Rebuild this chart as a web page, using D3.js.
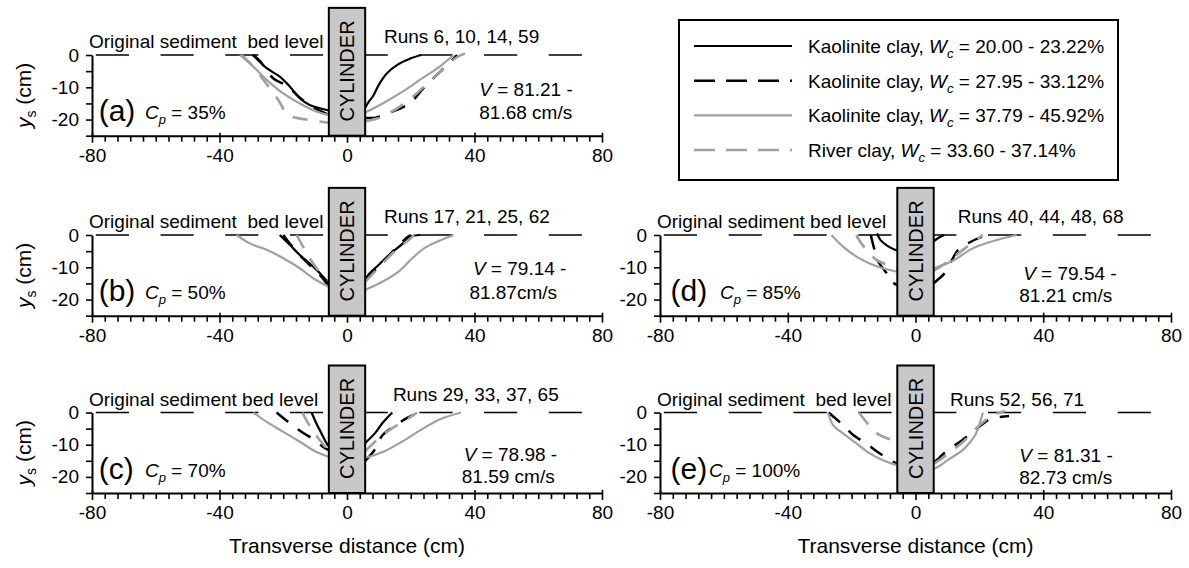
<!DOCTYPE html>
<html><head><meta charset="utf-8">
<script src="https://cdn.jsdelivr.net/npm/d3@7"></script>
<style>
body{margin:0;background:#fff}
text{font-family:'Liberation Sans',Arial,Helvetica,sans-serif;fill:#000}
</style>
</head><body><svg id="chart" width="1189" height="568"></svg>
<script>
// ---------------- DATA ----------------
const panelIds = ["a", "b", "c", "d", "e"];
const cpValues = ["35%", "50%", "70%", "85%", "100%"];
const runLabels = ["Runs 6, 10, 14, 59", "Runs 17, 21, 25, 62", "Runs 29, 33, 37, 65", "Runs 40, 44, 48, 68", "Runs 52, 56, 71"];
const velocityFrom = ["81.21 -", "79.14 -", "78.98 -", "79.54 -", "81.31 -"];
const velocityTo = ["81.68 cm/s", "81.87cm/s", "81.59 cm/s", "81.21 cm/s", "82.73 cm/s"];
const bedLabels = ["Original sediment  bed level", "Original sediment  bed level", "Original sediment bed level", "Original sediment bed level", "Original sediment  bed level"];
const clayTypes = ["Kaolinite clay, ", "Kaolinite clay, ", "Kaolinite clay, ", "River clay, "];
const wcRanges = ["20.00 - 23.22%", "27.95 - 33.12%", "37.79 - 45.92%", "33.60 - 37.14%"];
const xTickLabels = [-80, -40, 0, 40, 80];
const yTickLabels = [0, -10, -20];
const cylinderRadius = 5.7;   // cm
const cylinderTop = 14.6;     // cm above bed level

// each series: [left branch, right branch] of [transverse distance, scour depth]
const a_s1 = [[[-29.6,0],[-27.5,-2],[-25.2,-4.1],[-21.1,-6.7],[-17.9,-9.8],[-14.8,-13.4],[-11.7,-15.5],[-8.5,-16.5],[-5.7,-17.2]],
              [[5.7,-16.3],[6.8,-14.5],[8.2,-12.7],[10,-9.2],[12.4,-5.8],[16,-2.9],[19.6,-1.2],[23.2,0]]];
const a_s2 = [[[-29.4,0],[-27.2,-2],[-23.2,-7.2],[-18.8,-9.6],[-14.5,-13.5],[-10,-16.5],[-5.7,-18.5]],
              [[5.7,-19.5],[9,-19.4],[13.6,-17.8],[19.6,-15],[24.4,-9.8],[29.2,-5.2],[32.8,-1.7],[34.5,0]]];
const a_s3 = [[[-33.6,0],[-29.4,-3.6],[-25.2,-7.7],[-20,-11.9],[-14.8,-15],[-9.6,-17.5],[-5.7,-18.6]],
              [[5.7,-17.8],[11.2,-15],[17.2,-11.5],[23.2,-7.5],[29.2,-3.5],[33.4,0]]];
const a_s4 = [[[-33,0],[-30,-3],[-26,-8],[-21.5,-14],[-18.5,-18.5],[-12.2,-20.1],[-8.5,-20.6],[-5.7,-21]],
              [[5.7,-20.5],[10,-19.5],[15,-17],[20,-13.5],[25,-9],[30,-4.5],[34,-1],[37,0.5]]];

const b_s1 = [[[-21.1,0],[-17.9,-3.1],[-14.8,-6.2],[-10.6,-9.8],[-7.5,-12.9],[-5.7,-15]],
              [[5.7,-14.5],[6.4,-12.7],[10,-9.2],[13.6,-5.8],[17.2,-2.9],[19.6,-0.6],[23,0]]];
const b_s2 = [[[-20,0],[-16,-5],[-12,-9],[-8,-13],[-5.7,-16]],
              [[5.7,-14],[6.4,-13.2],[11.2,-8.6],[14.8,-4.6],[19,-0.6],[20,0]]];
const b_s3 = [[[-34.6,0],[-30.5,-2.6],[-25.2,-4.6],[-20,-7.2],[-14.8,-10.3],[-10.6,-13.4],[-5.7,-16]],
              [[5.7,-17],[6.4,-16.7],[11.2,-14.4],[16,-11.5],[20.8,-6.9],[24.4,-4],[29.2,-1.7],[33.4,0]]];
const b_s4 = [[[-15.8,0],[-13.8,-3.6],[-11.7,-7.2],[-9.1,-10.8],[-5.7,-14]],
              [[5.7,-14.5],[10,-10],[15,-5],[20,-1],[21,0]]];

const c_s1 = [[[-11.1,0],[-9.6,-3.4],[-8,-6.5],[-6.4,-9.6],[-5.7,-10.5]],
              [[5.7,-9.5],[6.1,-9.1],[8.8,-6.4],[11.2,-3.2],[14.2,0]]];
const c_s2 = [[[-22.1,0],[-18.5,-2.9],[-14.3,-6],[-10.1,-8.6],[-7.5,-10.7],[-5.7,-11.7]],
              [[5.7,-15],[8.2,-12.3],[11.2,-7],[14.8,-4.3],[19,-1.6],[22.6,0]]];
const c_s3 = [[[-29.4,0],[-25.2,-2.9],[-20,-6],[-14.8,-9.1],[-10.6,-11.7],[-5.7,-13.8]],
              [[5.7,-14],[6.4,-13.9],[11.2,-12.3],[17.2,-9.1],[23.2,-5.4],[29.2,-2.1],[35.8,0]]];
const c_s4 = [[[-14,0],[-11.5,-4.5],[-9,-8],[-5.7,-12]],
              [[5.7,-12],[10,-8],[14,-5],[19,-2],[22,0]]];

const d_s1 = [[[-12,0.5],[-11,-1.5],[-9,-3.2],[-7,-4.3],[-5.7,-4.8]],
              [[5.7,-2],[7,-1],[9,0]]];
const d_s2 = [[[-14,0],[-13,-4],[-11.8,-8],[-9.5,-11.2],[-8.3,-12.8],[-7.5,-14.4],[-5.7,-15.5]],
              [[5.7,-15],[7,-13.8],[8.8,-12.2],[11,-8.5],[13.2,-4.8],[16.2,-2.7],[21,-0.5],[24,0]]];
const d_s3 = [[[-26.3,0],[-22.7,-3.6],[-18.5,-6.7],[-14.4,-8.8],[-10.2,-10.3],[-5.7,-11.4]],
              [[5.7,-10.3],[6.4,-10.1],[11.7,-8],[17.6,-4.3],[23.5,-2.1],[31.7,0]]];
const d_s4 = [[[-18.5,0],[-18,-1],[-15.8,-4.1],[-12.2,-7.7],[-8.6,-9.3],[-5.7,-10.5]],
              [[5.7,-11],[9,-9],[13,-6],[17,-3],[21,0]]];

const e_s1 = [[], []];
const e_s2 = [[[-27.2,0],[-22.7,-3.9],[-19.6,-6.9],[-14.9,-10],[-11.4,-12.6],[-7.2,-15.2],[-5.7,-15.8]],
              [[5.7,-15.5],[7,-14.5],[9.3,-12.3],[14.6,-8.6],[18.7,-5.4],[23.4,-2.1],[29.3,-1.1]]];
const e_s3 = [[[-27.4,0],[-25.8,-3.9],[-22.7,-6.5],[-18.5,-9.6],[-14.3,-12.7],[-10.2,-14.8],[-5.7,-16.4]],
              [[5.7,-17.3],[6.4,-17.2],[10.5,-14.5],[15.2,-11.3],[18.7,-7],[20.5,-2.1],[21.1,0]]];
const e_s4 = [[[-17.7,0],[-14.6,-3.9],[-11.4,-6.9],[-5.7,-9]],
              [[5.7,-16],[10,-13],[15,-9],[20,-4],[24,-1],[28,0.5]]];

const profiles = {
  a: [a_s1, a_s2, a_s3, a_s4],
  b: [b_s1, b_s2, b_s3, b_s4],
  c: [c_s1, c_s2, c_s3, c_s4],
  d: [d_s1, d_s2, d_s3, d_s4],
  e: [e_s1, e_s2, e_s3, e_s4]
};

// ---------------- STYLE / LAYOUT ----------------
const seriesColor = ["#000", "#000", "#a0a0a0", "#a0a0a0"];
const seriesWidth = [2.2, 2.5, 2.2, 2.6];
const seriesDash = [null, "15,12", null, "15,12"];

const colRange = [[92, 602], [660, 1171]];
const rowRange = [[55, 135.7], [235, 315.7], [412.5, 493]];
const layout = {
  a: {col:0, row:0, lab:6.7, cp:53, runsX:11.6, runsDy:-12, v1:41, v2:64, vx1:41.5, vx2:41.5, ytitle:true, xtitle:false},
  b: {col:0, row:1, lab:6.7, cp:53, runsX:11.6, runsDy:-12, v1:40, v2:64, vx1:39.5, vx2:38.4, ytitle:true, xtitle:false},
  c: {col:0, row:2, lab:6.7, cp:53, runsX:14.4, runsDy:-12, v1:48, v2:70, vx1:36.6, vx2:36, ytitle:true, xtitle:true},
  d: {col:1, row:1, lab:10.6, cp:60, runsX:13.2, runsDy:-12, v1:45, v2:67, vx1:33.7, vx2:32.5, ytitle:false, xtitle:false},
  e: {col:1, row:2, lab:10.6, cp:49, runsX:10.8, runsDy:-7, v1:49, v2:71, vx1:32.5, vx2:32.5, ytitle:false, xtitle:true}
};

const svg = d3.select("#chart");
svg.append("rect").attr("width", 1189).attr("height", 568).attr("fill", "#fff");

panelIds.forEach((id, i) => {
  const L = layout[id];
  const x = d3.scaleLinear().domain([-80, 80]).range(colRange[L.col]);
  const y = d3.scaleLinear().domain([-25, 0]).range([rowRange[L.row][1], rowRange[L.row][0]]);
  const g = svg.append("g");

  // original bed level dashed line
  const dash = x(10.4) - x(0), gap = x(20.3) - x(10.4);
  g.append("line")
    .attr("x1", x(-78.8)).attr("x2", x(80)).attr("y1", y(0)).attr("y2", y(0))
    .attr("stroke", "#000").attr("stroke-width", 1.6)
    .attr("stroke-dasharray", dash + "," + gap);

  // profiles
  const line = d3.line().x(d => x(d[0])).y(d => y(d[1])).curve(d3.curveCatmullRom.alpha(0.5));
  profiles[id].forEach((series, s) => {
    series.forEach(branch => {
      if (!branch.length) return;
      g.append("path").attr("d", line(branch))
        .attr("fill", "none")
        .attr("stroke", seriesColor[s])
        .attr("stroke-width", seriesWidth[s])
        .attr("stroke-dasharray", seriesDash[s])
        .attr("stroke-linejoin", "round");
    });
  });

  // axes
  const xAxis = d3.axisBottom(x)
    .tickValues(d3.range(-80, 81, 4))
    .tickSize(6).tickSizeOuter(0).tickPadding(7)
    .tickFormat(d => xTickLabels.includes(d) ? String(d) : "");
  const xg = g.append("g").attr("transform", `translate(0,${y(-25)})`).call(xAxis);
  xg.select(".domain").attr("stroke-width", 2);
  xg.selectAll(".tick line").attr("stroke-width", 1.6)
    .attr("y1", d => xTickLabels.includes(d) ? -3 : 0)
    .attr("y2", d => xTickLabels.includes(d) ? 7 : 6);
  xg.selectAll("text").style("font-size", "19px").attr("fill", "#000");

  const yAxis = d3.axisLeft(y)
    .tickValues([0, -5, -10, -15, -20, -25])
    .tickSize(6).tickSizeOuter(0).tickPadding(7)
    .tickFormat(d => yTickLabels.includes(d) ? String(d) : "");
  const yg = g.append("g").attr("transform", `translate(${x(-80)},0)`).call(yAxis);
  yg.select(".domain").attr("stroke-width", 2);
  yg.selectAll(".tick line").attr("stroke-width", 1.6);
  yg.selectAll("text").style("font-size", "19px").attr("fill", "#000");

  // cylinder
  g.append("rect")
    .attr("x", x(-cylinderRadius)).attr("width", x(cylinderRadius) - x(-cylinderRadius))
    .attr("y", y(cylinderTop)).attr("height", y(-25) - y(cylinderTop))
    .attr("fill", "#c8c8c8").attr("stroke", "#000").attr("stroke-width", 2);
  g.append("text")
    .attr("transform", `translate(${x(0) + 7},${y(0) + 16}) rotate(-90)`)
    .attr("text-anchor", "middle").style("font-size", "20px")
    .text("CYLINDER");

  // labels
  g.append("text").attr("x", x(-80) - 3).attr("y", y(0) - 7)
    .style("font-size", "19px").style("white-space", "pre")
    .text(bedLabels[i]);
  g.append("text").attr("x", x(L.runsX)).attr("y", y(0) + L.runsDy)
    .style("font-size", "19px").text(runLabels[i]);

  g.append("text").attr("x", x(-80) + L.lab).attr("y", y(0) + 66)
    .style("font-size", "30px").text(`(${id})`);
  const cp = g.append("text").attr("x", x(-80) + L.cp).attr("y", y(0) + 64).style("font-size", "19px");
  cp.append("tspan").style("font-style", "italic").text("C");
  cp.append("tspan").style("font-style", "italic").style("font-size", "13px").attr("dy", 5).text("p");
  cp.append("tspan").attr("dy", -5).text(" = " + cpValues[i]);

  const v = g.append("text").attr("x", x(L.vx1)).attr("y", y(0) + L.v1).style("font-size", "19px");
  v.append("tspan").style("font-style", "italic").text("V");
  v.append("tspan").text(" = " + velocityFrom[i]);
  g.append("text").attr("x", x(L.vx2)).attr("y", y(0) + L.v2).style("font-size", "19px").text(velocityTo[i]);

  if (L.ytitle) {
    const t = g.append("text")
      .attr("transform", `translate(31,${(y(0) + y(-25)) / 2}) rotate(-90)`)
      .attr("text-anchor", "middle").style("font-size", "21px");
    t.append("tspan").style("font-style", "italic").text("y");
    t.append("tspan").style("font-size", "14px").attr("dy", 5).text("s");
    t.append("tspan").attr("dy", -5).text(" (cm)");
  }
  if (L.xtitle) {
    g.append("text").attr("x", x(0)).attr("y", y(-25) + 60)
      .attr("text-anchor", "middle").style("font-size", "21px")
      .text("Transverse distance (cm)");
  }
});

// ---------------- LEGEND ----------------
const legend = svg.append("g");
legend.append("rect").attr("x", 679).attr("y", 20).attr("width", 439).attr("height", 160)
  .attr("fill", "#fff").attr("stroke", "#000").attr("stroke-width", 2);
const legendRowY = d3.scalePoint().domain(d3.range(4)).range([46, 150]);
clayTypes.forEach((ct, s) => {
  const yy = legendRowY(s);
  legend.append("line").attr("x1", 694).attr("x2", 792).attr("y1", yy).attr("y2", yy)
    .attr("stroke", seriesColor[s]).attr("stroke-width", seriesWidth[s])
    .attr("stroke-dasharray", seriesDash[s] ? "21,11" : null);
  const t = legend.append("text").attr("x", 808).attr("y", yy + 7).style("font-size", "19px");
  t.append("tspan").text(ct);
  t.append("tspan").style("font-style", "italic").text("W");
  t.append("tspan").style("font-style", "italic").style("font-size", "13px").attr("dy", 5).text("c");
  t.append("tspan").attr("dy", -5).text(" = " + wcRanges[s]);
});
</script>
</body></html>
